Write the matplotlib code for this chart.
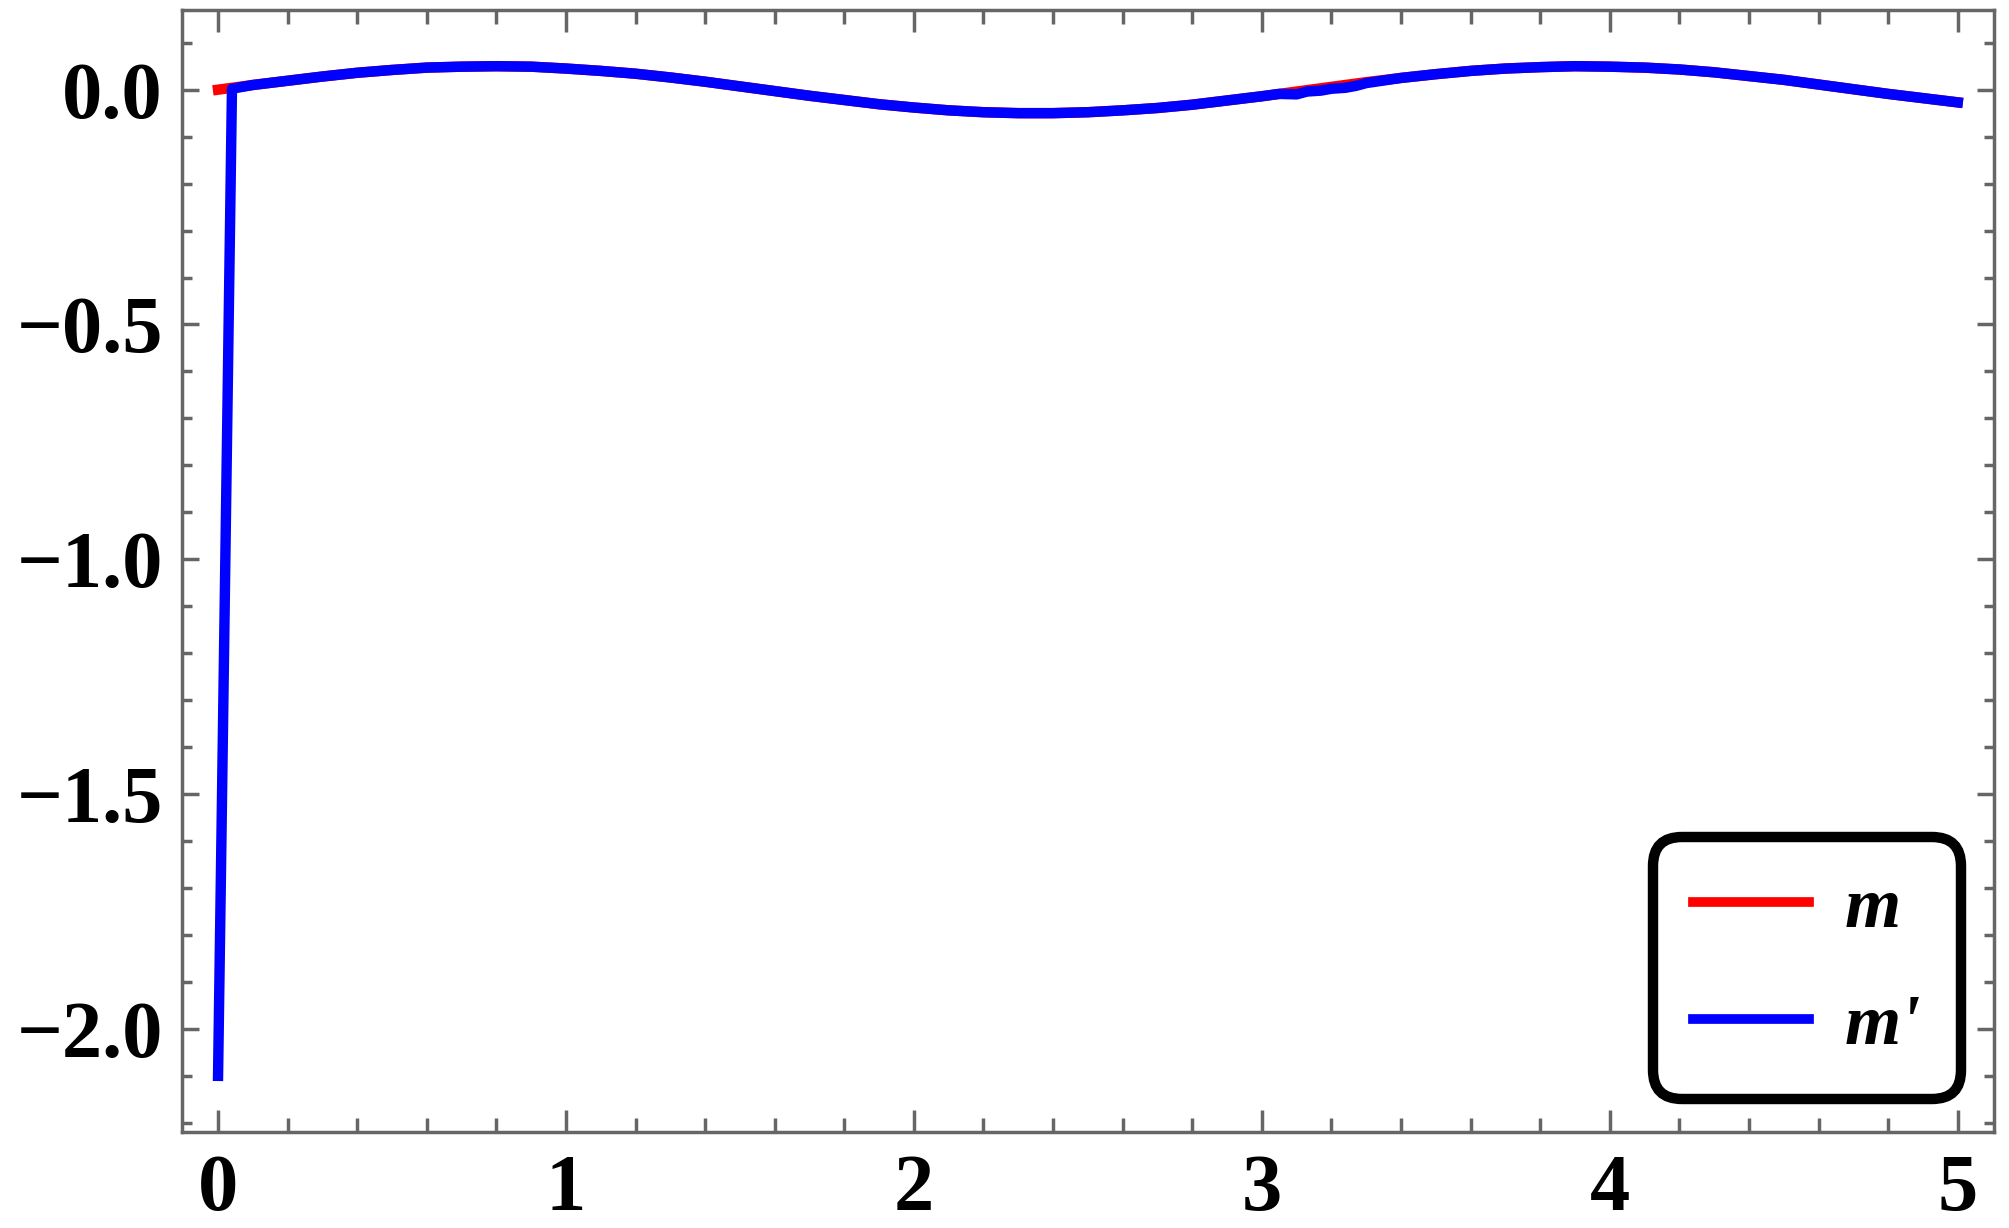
import matplotlib
matplotlib.use('Agg')
import matplotlib.pyplot as plt
from matplotlib.ticker import MultipleLocator, FixedLocator

# ---- data ----
t_m = [0.0, 0.1, 0.2, 0.3, 0.4, 0.5, 0.6, 0.7, 0.8, 0.9, 1.0, 1.1, 1.2, 1.3, 1.4,
       1.5, 1.6, 1.7, 1.8, 1.9, 2.0, 2.1, 2.2, 2.3, 2.4, 2.5, 2.6, 2.7, 2.8, 2.9,
       3.0, 3.1, 3.2, 3.3, 3.4, 3.5, 3.6, 3.7, 3.8, 3.9, 4.0, 4.1, 4.2, 4.3, 4.4,
       4.5, 4.6, 4.7, 4.8, 4.9, 5.0]
m_vals = [0.000, 0.010, 0.019, 0.028, 0.036, 0.042, 0.047, 0.049, 0.050, 0.049,
          0.045, 0.040, 0.034, 0.026, 0.017, 0.007, -0.003, -0.013, -0.022, -0.031,
          -0.038, -0.044, -0.048, -0.050, -0.050, -0.048, -0.044, -0.039, -0.032,
          -0.023, -0.014, -0.004, 0.006, 0.016, 0.025, 0.033, 0.040, 0.045, 0.048,
          0.050, 0.049, 0.047, 0.043, 0.037, 0.029, 0.021, 0.011, 0.001, -0.009,
          -0.018, -0.027]

t_mp = [0.0, 0.01, 0.02, 0.03, 0.04, 0.1, 0.2, 0.3, 0.4, 0.5, 0.6, 0.7, 0.8, 0.9,
        1.0, 1.1, 1.2, 1.3, 1.4, 1.5, 1.6, 1.7, 1.8, 1.9, 2.0, 2.1, 2.2, 2.3, 2.4,
        2.5, 2.6, 2.7, 2.8, 2.9, 3.0, 3.05, 3.1, 3.13, 3.17, 3.2, 3.24, 3.27, 3.3,
        3.4, 3.5, 3.6, 3.7, 3.8, 3.9, 4.0, 4.1, 4.2, 4.3, 4.4, 4.5, 4.6, 4.7, 4.8,
        4.9, 5.0]
mp_vals = [-2.100, -1.580, -1.050, -0.520, 0.002, 0.010, 0.019, 0.028, 0.036,
           0.042, 0.047, 0.049, 0.050, 0.049, 0.045, 0.040, 0.034, 0.026, 0.017,
           0.007, -0.003, -0.013, -0.022, -0.031, -0.038, -0.044, -0.048, -0.050,
           -0.050, -0.048, -0.044, -0.039, -0.032, -0.023, -0.014, -0.009, -0.010,
           -0.004, -0.002, 0.002, 0.004, 0.008, 0.014, 0.025, 0.033, 0.040, 0.045,
           0.048, 0.050, 0.049, 0.047, 0.043, 0.037, 0.029, 0.021, 0.011, 0.001,
           -0.009, -0.018, -0.027]

x_major = [0, 1, 2, 3, 4, 5]
x_labels = ['0', '1', '2', '3', '4', '5']
y_major = [0.0, -0.5, -1.0, -1.5, -2.0]
y_labels = ['0.0', '\u22120.5', '\u22121.0', '\u22121.5', '\u22122.0']
series_names = ['m', "m'"]

# ---- figure ----
fig = plt.figure(figsize=(20.09, 12.28), dpi=100)
ax = fig.add_axes([0.0907, 0.0784, 0.9016, 0.9132])

ax.plot(t_m, m_vals, color='#ff0000', lw=7.5, label=series_names[0], zorder=2)
ax.plot(t_mp, mp_vals, color='#0000ff', lw=7.5, label=series_names[1], zorder=3)

ax.set_xlim(-0.103, 5.103)
ax.set_ylim(-2.219, 0.169)

gray = '#666666'
for sp in ax.spines.values():
    sp.set_color(gray)
    sp.set_linewidth(2.5)

ax.xaxis.set_major_locator(FixedLocator(x_major))
ax.yaxis.set_major_locator(FixedLocator(y_major))
ax.xaxis.set_minor_locator(MultipleLocator(0.2))
ax.yaxis.set_minor_locator(MultipleLocator(0.1))
ax.set_xticklabels(x_labels)
ax.set_yticklabels(y_labels)

for lab in ax.get_xticklabels() + ax.get_yticklabels():
    lab.set_fontfamily('Liberation Serif')
    lab.set_fontweight('bold')
    lab.set_fontsize(58)

ax.tick_params(axis='both', which='both', direction='in', color=gray, width=2.5,
               top=True, right=True, labelcolor='black')
ax.tick_params(axis='x', which='major', length=16, pad=16)
ax.tick_params(axis='x', which='minor', length=10)
ax.tick_params(axis='y', which='major', length=12, pad=14)
ax.tick_params(axis='y', which='minor', length=7)

leg = ax.legend(loc='lower right', bbox_to_anchor=(0.982, 0.029),
                bbox_transform=ax.transAxes, borderaxespad=0,
                prop=dict(family='Liberation Serif', weight='bold', style='italic', size=52),
                handlelength=1.6, handletextpad=0.5, labelspacing=0.72,
                borderpad=0.55, fancybox=True, framealpha=1, edgecolor='black')
leg.get_frame().set_linewidth(7.5)
leg.get_frame().set_boxstyle('round', pad=0, rounding_size=0.4)
for line in leg.get_lines():
    line.set_linewidth(7)

fig.savefig('out.png', dpi=100, facecolor='white')
